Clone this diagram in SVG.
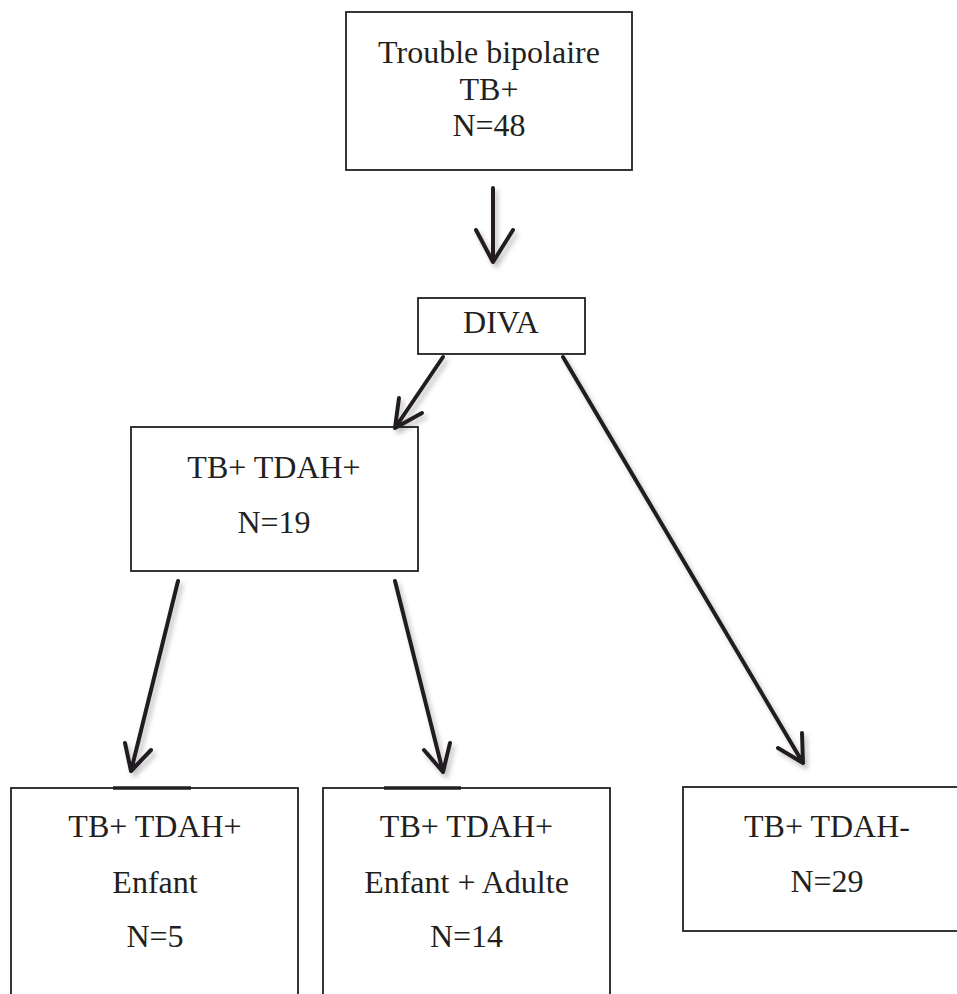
<svg xmlns="http://www.w3.org/2000/svg" width="957" height="994" viewBox="0 0 957 994">
<defs>
<filter id="sh" x="-20%" y="-20%" width="140%" height="140%">
<feDropShadow dx="3" dy="4" stdDeviation="2.5" flood-color="#000" flood-opacity="0.25"/>
</filter>
<style>
.box{fill:#fff;stroke:#231f20;stroke-width:1.8}
.t{font-family:"Liberation Serif","Times New Roman",serif;font-size:32px;fill:#231f20;text-anchor:middle}
.c{fill:none;stroke:#231f20;stroke-width:4;stroke-linecap:round;stroke-linejoin:round;filter:url(#sh)}
.thick{stroke:#231f20;stroke-width:3.5}
</style>
</defs>
<rect width="957" height="994" fill="#fff"/>
<g id="n-tb">
<rect class="box" x="346" y="12" width="286" height="158"/>
<text class="t" x="489" y="63">Trouble bipolaire</text>
<text class="t" x="489" y="100">TB+</text>
<text class="t" x="489" y="136">N=48</text>
</g>
<g id="n-diva">
<rect class="box" x="418" y="298" width="167" height="56"/>
<text class="t" x="501" y="333">DIVA</text>
</g>
<g id="n-tdahp">
<rect class="box" x="131" y="427" width="287" height="144"/>
<text class="t" x="274" y="478">TB+ TDAH+</text>
<text class="t" x="274" y="533">N=19</text>
</g>
<g id="n-enfant">
<rect class="box" x="11" y="788" width="287" height="220"/>
<line class="thick" x1="113" y1="788" x2="191" y2="788"/>
<text class="t" x="155" y="837">TB+ TDAH+</text>
<text class="t" x="155" y="893">Enfant</text>
<text class="t" x="155" y="947">N=5</text>
</g>
<g id="n-enfant-adulte">
<rect class="box" x="323" y="788" width="287" height="220"/>
<line class="thick" x1="384" y1="788" x2="461" y2="788"/>
<text class="t" x="466.5" y="837">TB+ TDAH+</text>
<text class="t" x="466.5" y="893">Enfant + Adulte</text>
<text class="t" x="466.5" y="947">N=14</text>
</g>
<g id="n-tdahm">
<rect class="box" x="683" y="787" width="300" height="144"/>
<text class="t" x="827" y="837">TB+ TDAH-</text>
<text class="t" x="827" y="892">N=29</text>
</g>
<g id="connectors">
<path class="c" d="M493,188 L493,262 M476,230 L493,262 L513,230"/>
<path class="c" d="M443,357 L395,428 M399,398 L395,428 L422,413"/>
<path class="c" d="M563,357 L803,763 M778,748 L803,763 L802,733"/>
<path class="c" d="M178,581 L131,771 M125,743 L131,771 L151,750"/>
<path class="c" d="M395,581 L443,772 M424,750 L443,772 L450,743"/>
</g>
</svg>
